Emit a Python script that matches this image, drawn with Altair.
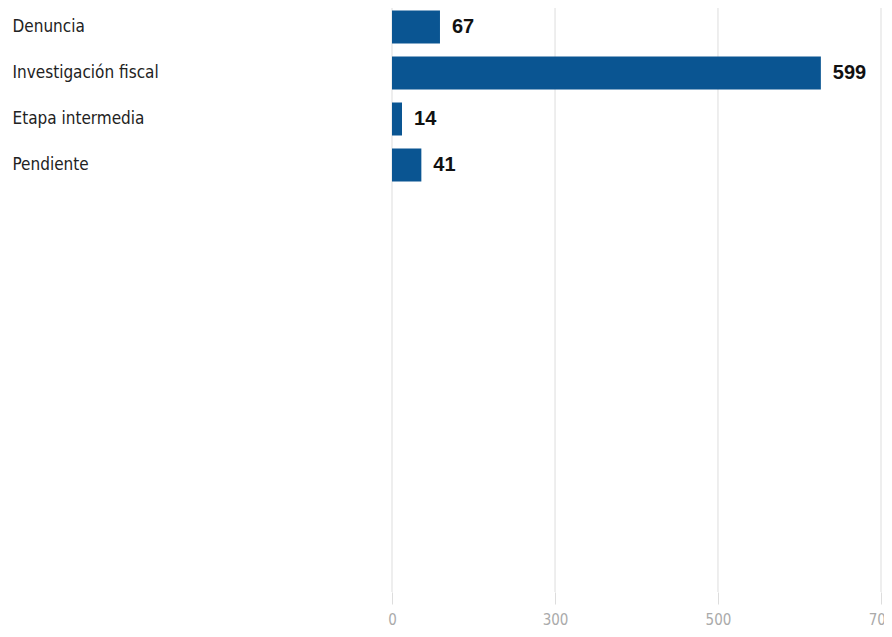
import altair as alt
import pandas as pd

categories = ["Denuncia", "Investigación fiscal", "Etapa intermedia", "Pendiente"]
values = [67, 599, 14, 41]
tick_values = [0, 227.7, 455.3, 683]
tick_labels = ["0", "300", "500", "700"]

df = pd.DataFrame({"cat": categories, "val": values})
grid_df = pd.DataFrame({"t": tick_values})

label_map = "{" + ",".join(f"'{v}':'{l}'" for v, l in zip(tick_values, tick_labels)) + "}"

H = 584

y_enc = alt.Y(
    "cat:N",
    sort=categories,
    scale=alt.Scale(range=[-4, 180], paddingInner=0, paddingOuter=0),
    axis=alt.Axis(
        title=None, domain=False, ticks=False, grid=False,
        labelAlign="left", labelPadding=380, labelFontSize=17,
        labelFont="DejaVu Sans Condensed", labelColor="#222222",
        labelLimit=400,
    ),
)
x_enc = alt.X(
    "val:Q",
    scale=alt.Scale(domain=[0, 683], nice=False, zero=True),
    axis=alt.Axis(
        title=None, domain=False, values=tick_values,
        labelExpr=f"{label_map}[datum.value + ''] || datum.label",
        grid=False,
        tickColor="#dddddd", tickSize=12, labelPadding=8,
        labelFontSize=15, labelColor="#aaaaaa",
        labelFont="DejaVu Sans Condensed",
        labelOverlap=False, labelBound=False, labelFlush=False,
    ),
)

grid = alt.Chart(grid_df).mark_rule(color="#dddddd", strokeWidth=1).encode(
    x=alt.X("t:Q"), y=alt.value(0), y2=alt.value(H)
)
bars = alt.Chart(df).mark_bar(size=33, color="#0a5592").encode(x=x_enc, y=y_enc)
text = alt.Chart(df).mark_text(
    align="left", baseline="middle", dx=12, fontSize=20, fontWeight="bold",
    font="Liberation Sans", color="#111111",
).encode(x=alt.X("val:Q"), y=alt.Y("cat:N", sort=categories), text="val:Q")

chart = (grid + bars + text).properties(
    width=489, height=H,
    autosize=alt.AutoSizeParams(type="none"),
    padding={"left": 384, "top": 0, "right": 3, "bottom": 37},
).configure_view(stroke=None)

chart.save("out.html", embed_options={"renderer": "svg", "actions": False})
